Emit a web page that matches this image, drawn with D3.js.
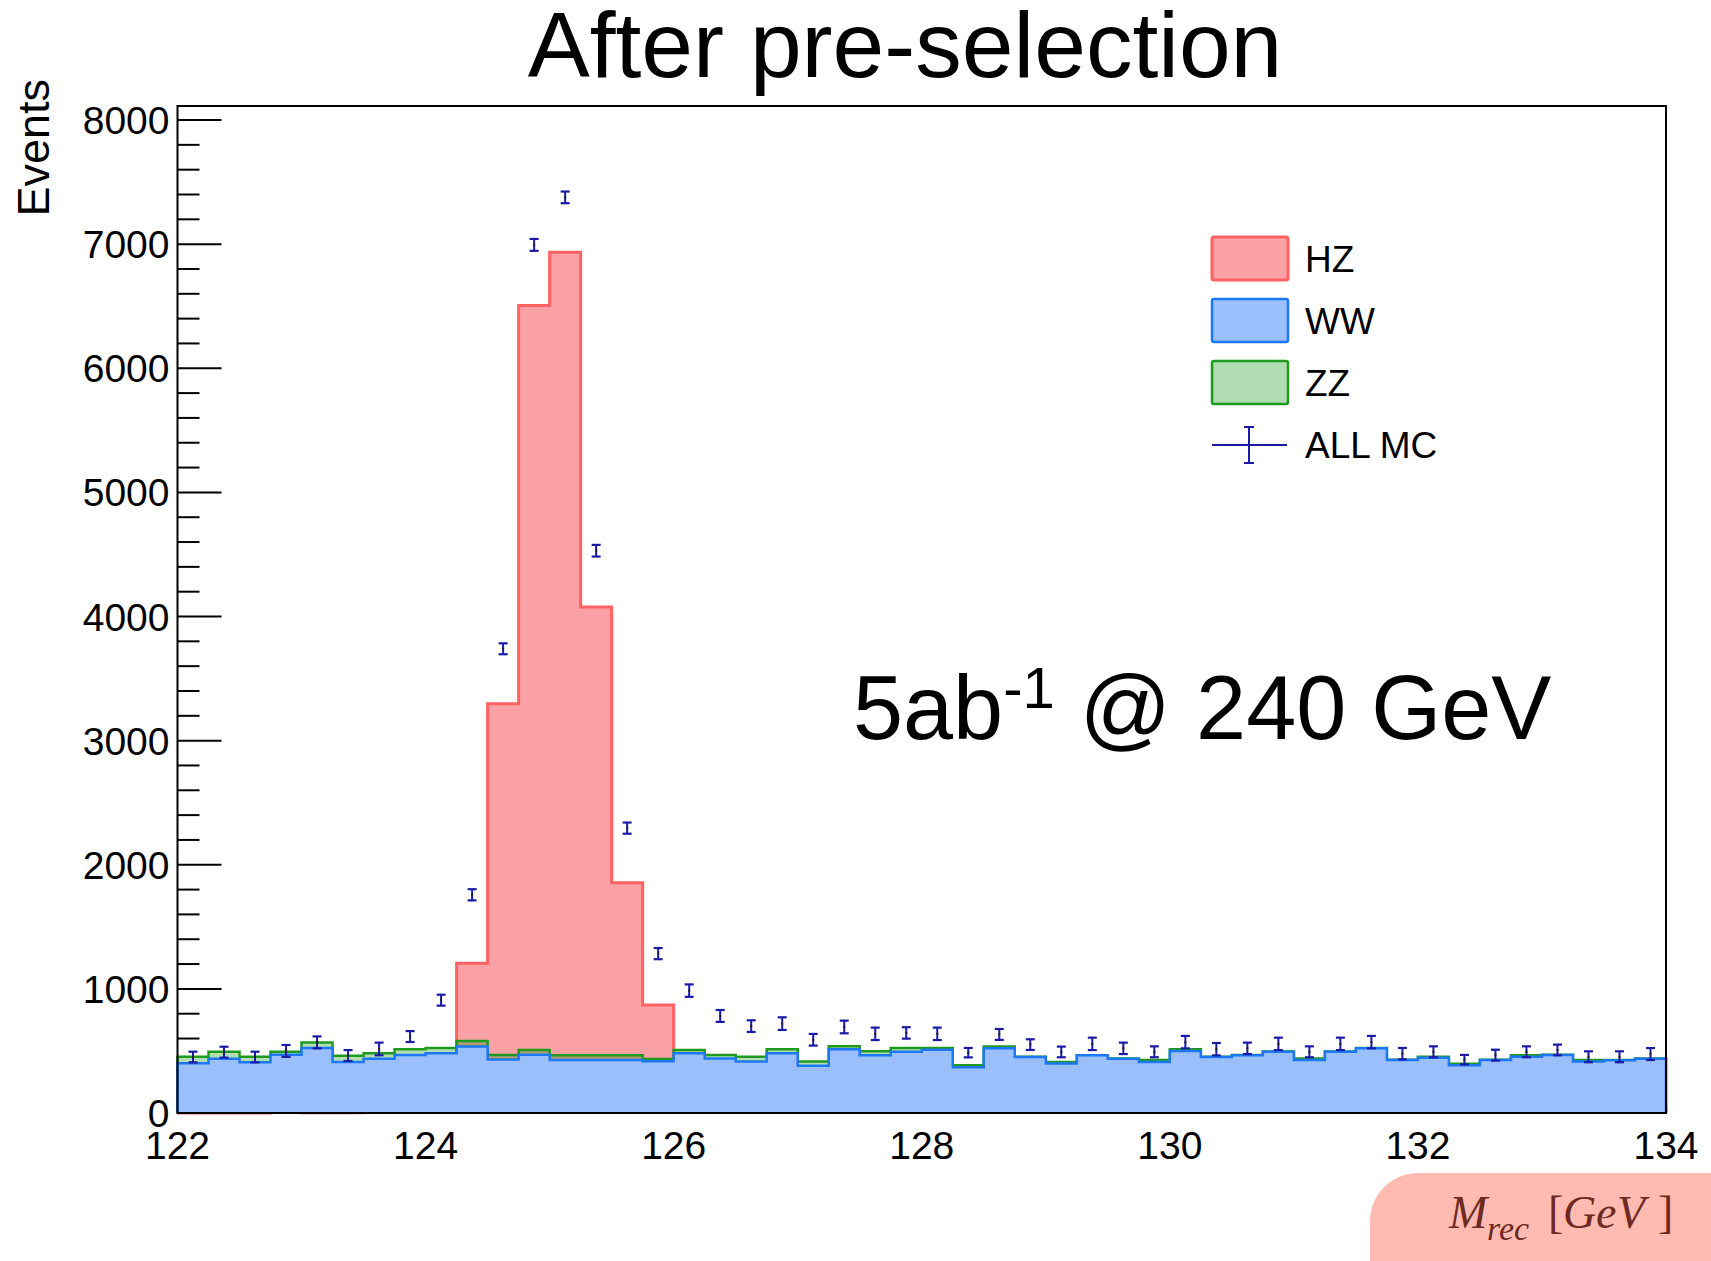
<!DOCTYPE html>
<html>
<head>
<meta charset="utf-8">
<script src="https://cdn.jsdelivr.net/npm/d3@7"></script>
<style>
  html, body { margin: 0; padding: 0; background: #ffffff; }
  svg { display: block; }
</style>
</head>
<body>
<svg id="chart" width="1711" height="1261"></svg>
<script>
// Recoil mass spectrum, 48 bins of 0.25 GeV between 122 and 134 GeV
const xMin = 122;
const xMax = 134;
const binWidth = 0.25;

// Signal (HZ) bin contents
const hzValues = [
  0, 0, 0, 5, 2, 3, 40, 105, 385, 1206, 3297, 6505,
  6935, 4077, 1855, 870, 470, 315, 246, 207, 176, 156, 141, 121,
  114, 102, 98, 97, 81, 92, 83, 66, 58, 60, 54, 61,
  53, 61, 48, 49, 39, 33, 37, 28, 39, 26, 26, 35
];

// WW background bin contents
const wwValues = [
  400, 438, 408, 470, 524, 411, 438, 467, 481, 536, 432, 470,
  427, 427, 427, 416, 481, 440, 414, 481, 381, 513, 465, 494,
  510, 368, 521, 451, 398, 465, 438, 411, 500, 451, 465, 494,
  427, 494, 521, 427, 446, 384, 427, 454, 467, 414, 424, 438
];

// ZZ background bin contents (stacked on WW)
const zzValues = [
  54, 56, 46, 24, 43, 51, 43, 46, 43, 44, 35, 38,
  38, 38, 38, 19, 27, 27, 40, 32, 33, 24, 32, 30,
  14, 16, 14, 3, 13, 1, 1, 16, 13, 3, 2, 2,
  13, 2, 2, 2, 8, 13, 2, 11, 2, 13, 3, 2
];

// Total MC points and their uncertainties
const allMcValues = [
  451, 490, 451, 500, 569, 463, 516, 616, 909, 1758, 3740, 6994,
  7377, 4530, 2295, 1284, 986, 782, 700, 720, 590, 693, 638, 645,
  638, 486, 633, 551, 492, 557, 521, 493, 571, 514, 521, 557,
  493, 557, 571, 478, 493, 430, 466, 493, 508, 453, 453, 475
];
const allMcErrors = [
  43, 44, 43, 48, 48, 44, 51, 44, 44, 45, 44, 48,
  47, 47, 45, 45, 50, 48, 47, 51, 47, 51, 50, 46,
  50, 38, 44, 43, 43, 50, 46, 44, 50, 50, 46, 50,
  44, 50, 50, 46, 44, 38, 44, 44, 43, 44, 44, 48
];

const xTickValues = [122, 124, 126, 128, 130, 132, 134];
const yTickValues = [0, 1000, 2000, 3000, 4000, 5000, 6000, 7000, 8000];
const yMax = 8113;

const legendEntries = ["HZ", "WW", "ZZ", "ALL MC"];

// ---- layout & style ----
const frame = { left: 177.5, right: 1666, top: 106, bottom: 1113 };
const colors = {
  hzFill: "#f9a1a4", hzLine: "#ff6262",
  wwFill: "#9bbffa", wwLine: "#1c78f6",
  zzFill: "rgba(0,150,0,0.30)", zzLine: "#1f9a1f",
  mc: "#1a1aa6"
};
const sansFont = "'Liberation Sans', Arial, Helvetica, sans-serif";
const serifFont = "'Liberation Serif', 'Times New Roman', serif";

const svg = d3.select("#chart");

const x = d3.scaleLinear().domain([xMin, xMax]).range([frame.left, frame.right]);
const y = d3.scaleLinear().domain([0, yMax]).range([frame.bottom, frame.top]);

const nBins = wwValues.length;
const edges = d3.range(nBins + 1).map(i => xMin + i * binWidth);

// histogram points: bin low edge -> content, plus the closing edge
function histPoints(values) {
  const pts = values.map((v, i) => [edges[i], v]);
  pts.push([edges[nBins], values[nBins - 1]]);
  return pts;
}

const areaGen = d3.area()
  .curve(d3.curveStepAfter)
  .x(d => x(d[0]))
  .y0(y(0))
  .y1(d => y(d[1]));

// outline starts and ends on the baseline
function outlinePath(values) {
  const pts = histPoints(values);
  const line = d3.line().curve(d3.curveStepAfter).x(d => x(d[0])).y(d => y(d[1]));
  const start = [x(xMin), y(0)];
  const end = [x(xMax), y(0)];
  return "M" + start[0] + "," + start[1] + "L" + line(pts).slice(1) + "L" + end[0] + "," + end[1];
}

// ---- axis ticks (drawn beneath the histograms) ----
const ticksG = svg.append("g");
const yMinorTicks = d3.range(0, yMax, 200).filter(v => v % 1000 !== 0);
ticksG.selectAll(".ymaj").data(yTickValues).join("line")
  .attr("x1", frame.left).attr("x2", frame.left + 44)
  .attr("y1", d => y(d)).attr("y2", d => y(d))
  .attr("stroke", "#000").attr("stroke-width", 2);
ticksG.selectAll(".ymin").data(yMinorTicks).join("line")
  .attr("x1", frame.left).attr("x2", frame.left + 22)
  .attr("y1", d => y(d)).attr("y2", d => y(d))
  .attr("stroke", "#000").attr("stroke-width", 2);

const xMinorTicks = d3.range(xMin, xMax + 0.001, 0.5).filter(v => Math.abs(v % 2) > 1e-6);
ticksG.selectAll(".xmaj").data(xTickValues).join("line")
  .attr("x1", d => x(d)).attr("x2", d => x(d))
  .attr("y1", frame.bottom).attr("y2", frame.bottom - 30)
  .attr("stroke", "#000").attr("stroke-width", 2);
ticksG.selectAll(".xmin").data(xMinorTicks).join("line")
  .attr("x1", d => x(d)).attr("x2", d => x(d))
  .attr("y1", frame.bottom).attr("y2", frame.bottom - 15)
  .attr("stroke", "#000").attr("stroke-width", 2);

// ---- histograms ----
const histG = svg.append("g");

// signal
histG.append("path").attr("d", areaGen(histPoints(hzValues))).attr("fill", colors.hzFill);
histG.append("path").attr("d", outlinePath(hzValues))
  .attr("fill", "none").attr("stroke", colors.hzLine).attr("stroke-width", 3);

// WW + ZZ stack top
const stackTop = wwValues.map((v, i) => v + zzValues[i]);
histG.append("path").attr("d", areaGen(histPoints(stackTop))).attr("fill", colors.zzFill);
histG.append("path").attr("d", outlinePath(stackTop))
  .attr("fill", "none").attr("stroke", colors.zzLine).attr("stroke-width", 2.5);

// WW
histG.append("path").attr("d", areaGen(histPoints(wwValues))).attr("fill", colors.wwFill);
histG.append("path").attr("d", outlinePath(wwValues))
  .attr("fill", "none").attr("stroke", colors.wwLine).attr("stroke-width", 2.5);

// ---- frame ----
svg.append("rect")
  .attr("x", frame.left).attr("y", frame.top)
  .attr("width", frame.right - frame.left).attr("height", frame.bottom - frame.top)
  .attr("fill", "none").attr("stroke", "#000").attr("stroke-width", 2);

// ---- total MC points with error bars ----
const mcG = svg.append("g");
const centers = allMcValues.map((v, i) => ({ xc: xMin + (i + 0.5) * binWidth, v, e: allMcErrors[i] }));
const capHalf = 4.5;
mcG.selectAll(".ebar").data(centers).join("line")
  .attr("x1", d => x(d.xc)).attr("x2", d => x(d.xc))
  .attr("y1", d => y(d.v - d.e)).attr("y2", d => y(d.v + d.e))
  .attr("stroke", colors.mc).attr("stroke-width", 2);
mcG.selectAll(".ecapT").data(centers).join("line")
  .attr("x1", d => x(d.xc) - capHalf).attr("x2", d => x(d.xc) + capHalf)
  .attr("y1", d => y(d.v + d.e)).attr("y2", d => y(d.v + d.e))
  .attr("stroke", colors.mc).attr("stroke-width", 2.2);
mcG.selectAll(".ecapB").data(centers).join("line")
  .attr("x1", d => x(d.xc) - capHalf).attr("x2", d => x(d.xc) + capHalf)
  .attr("y1", d => y(d.v - d.e)).attr("y2", d => y(d.v - d.e))
  .attr("stroke", colors.mc).attr("stroke-width", 2.2);
mcG.selectAll(".emark").data(centers).join("rect")
  .attr("x", d => x(d.xc) - 1).attr("y", d => y(d.v) - 1)
  .attr("width", 2).attr("height", 2).attr("fill", "#222");

// ---- tick labels ----
svg.append("g").selectAll("text").data(yTickValues).join("text")
  .attr("x", frame.left - 8).attr("y", d => y(d) + 14)
  .attr("text-anchor", "end")
  .attr("font-family", sansFont).attr("font-size", 39)
  .text(d => d);

svg.append("g").selectAll("text").data(xTickValues).join("text")
  .attr("x", d => x(d)).attr("y", 1159)
  .attr("text-anchor", "middle")
  .attr("font-family", sansFont).attr("font-size", 39)
  .text(d => d);

// ---- titles ----
svg.append("text")
  .attr("x", 905).attr("y", 77)
  .attr("text-anchor", "middle")
  .attr("font-family", sansFont).attr("font-size", 93)
  .text("After pre-selection");

svg.append("text")
  .attr("transform", "translate(49,79) rotate(-90)")
  .attr("text-anchor", "end")
  .attr("font-family", sansFont).attr("font-size", 45)
  .text("Events");

// luminosity / energy label
const lumi = svg.append("text")
  .attr("x", 853).attr("y", 739)
  .attr("font-family", sansFont).attr("font-size", 90);
lumi.append("tspan").text("5ab");
lumi.append("tspan").attr("font-size", 58).attr("dy", -31).text("-1");
lumi.append("tspan").attr("dy", 31).text(" @ 240 GeV");

// ---- legend ----
const legendG = svg.append("g");
const boxes = [
  { label: legendEntries[0], fill: colors.hzFill, stroke: colors.hzLine, sw: 3, y0: 237 },
  { label: legendEntries[1], fill: colors.wwFill, stroke: colors.wwLine, sw: 2.5, y0: 299 },
  { label: legendEntries[2], fill: "#b1dcb1", stroke: colors.zzLine, sw: 2.5, y0: 361 }
];
boxes.forEach(b => {
  legendG.append("rect")
    .attr("x", 1212).attr("y", b.y0).attr("width", 76).attr("height", 43)
    .attr("rx", 2)
    .attr("fill", b.fill).attr("stroke", b.stroke).attr("stroke-width", b.sw);
  legendG.append("text")
    .attr("x", 1305).attr("y", b.y0 + 21.5 + 13.5)
    .attr("font-family", sansFont).attr("font-size", 37)
    .text(b.label);
});
// ALL MC legend marker
legendG.append("line").attr("x1", 1212).attr("x2", 1287).attr("y1", 445).attr("y2", 445)
  .attr("stroke", colors.mc).attr("stroke-width", 2);
legendG.append("line").attr("x1", 1249).attr("x2", 1249).attr("y1", 427).attr("y2", 463)
  .attr("stroke", colors.mc).attr("stroke-width", 2);
legendG.append("line").attr("x1", 1244).attr("x2", 1254).attr("y1", 427).attr("y2", 427)
  .attr("stroke", colors.mc).attr("stroke-width", 2);
legendG.append("line").attr("x1", 1244).attr("x2", 1254).attr("y1", 463).attr("y2", 463)
  .attr("stroke", colors.mc).attr("stroke-width", 2);
legendG.append("text")
  .attr("x", 1305).attr("y", 458)
  .attr("font-family", sansFont).attr("font-size", 37)
  .text(legendEntries[3]);

// ---- x axis title badge ----
svg.append("rect")
  .attr("x", 1370).attr("y", 1173).attr("width", 420).attr("height", 140)
  .attr("rx", 48).attr("fill", "#ffbbb1");
const xt = svg.append("g").attr("fill", "#6d2a22").attr("font-family", serifFont);
xt.append("text").attr("x", 1449).attr("y", 1228).attr("font-size", 46).attr("font-style", "italic").text("M");
xt.append("text").attr("x", 1487).attr("y", 1240).attr("font-size", 34).attr("font-style", "italic").text("rec");
xt.append("text").attr("x", 1548).attr("y", 1228).attr("font-size", 46).text("[");
xt.append("text").attr("x", 1563).attr("y", 1228).attr("font-size", 46).attr("font-style", "italic").text("G");
xt.append("text").attr("x", 1596).attr("y", 1228).attr("font-size", 46).attr("font-style", "italic").text("e");
xt.append("text").attr("x", 1617).attr("y", 1228).attr("font-size", 46).attr("font-style", "italic").text("V");
xt.append("text").attr("x", 1658).attr("y", 1228).attr("font-size", 46).text("]");
</script>
</body>
</html>
